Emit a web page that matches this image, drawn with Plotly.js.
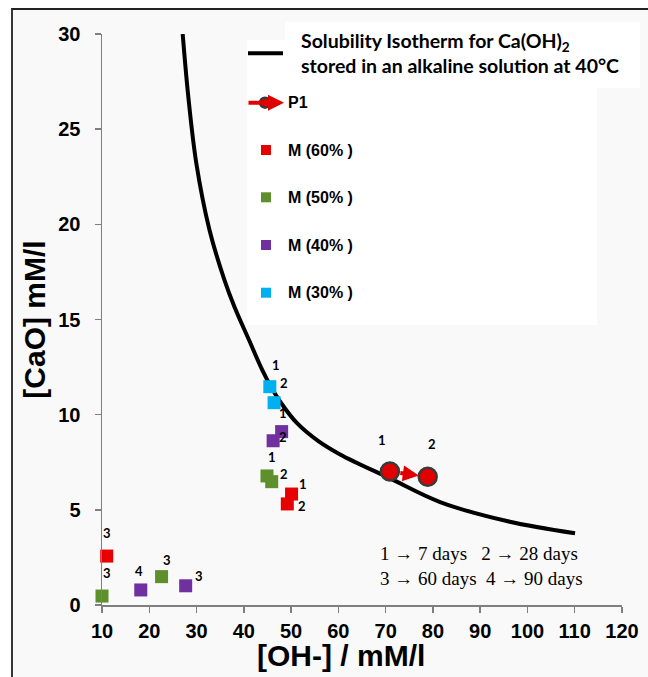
<!DOCTYPE html>
<html><head><meta charset="utf-8">
<script src="https://cdn.plot.ly/plotly-3.0.1.min.js"></script>
<style>html,body{margin:0;padding:0;background:#fff}</style>
</head><body><div id="chart" style="width:648px;height:677px"></div>
<script>
// ---------- data ----------
const curveX = [27.07, 28.26, 29.95, 32.74, 35.91, 38.01, 41.10, 43.89, 45.73, 47.92, 51.26, 55.70, 60.36, 70.94, 81.52, 95.63, 110.07];
const curveY = [30.0, 26.70, 23.21, 19.70, 17.07, 15.67, 13.92, 12.35, 11.47, 10.60, 9.55, 8.62, 7.91, 6.65, 5.41, 4.41, 3.77];

const p1X = [70.9, 78.9];
const p1Y = [7.01, 6.74];
const p1Lbl = ['1', '2'];

const m60X = [50.1, 49.2, 11.0];
const m60Y = [5.83, 5.31, 2.57];
const m60Lbl = ['1', '2', '3'];

const m50X = [44.9, 45.9, 10.0, 22.6];
const m50Y = [6.78, 6.48, 0.47, 1.49];
const m50Lbl = ['1', '2', '3', '3'];

const m40X = [48.0, 46.2, 18.2, 27.7];
const m40Y = [9.11, 8.63, 0.79, 1.01];
const m40Lbl = ['1', '2', '4', '3'];

const m30X = [45.5, 46.4];
const m30Y = [11.47, 10.63];
const m30Lbl = ['1', '2'];

const seriesNames = ['P1', 'M (60% )', 'M (50% )', 'M (40% )', 'M (30% )'];
const curveNameLines = ['Solubility Isotherm for Ca(OH)<sub>2</sub>', 'stored in an alkaline solution at 40°C'];
const xTickVals = [10, 20, 30, 40, 50, 60, 70, 80, 90, 100, 110, 120];
const yTickVals = [0, 5, 10, 15, 20, 25, 30];
const xTitle = '[OH-] / mM/l';
const yTitle = '[CaO] mM/l';
const daysNote = '1 → 7 days&nbsp;&nbsp;&nbsp;2 → 28 days<br>3 → 60 days&nbsp;&nbsp;4 → 90 days';

// ---------- styling / layout ----------
const W = 648, H = 677;
const M = {l: 102, r: 26, t: 34, b: 72};
const PX = x => (x - M.l) / (W - M.l - M.r);
const PY = y => (H - M.b - y) / (H - M.t - M.b);

const colors = {m60: '#e60000', m50: '#5e8f2d', m40: '#7030a0', m30: '#00b0f0', p1: '#e00000'};
const labelFont = {family: 'Lato, Open Sans, sans-serif', size: 13, weight: 'bold', color: '#000'};
const boldSans = 'Liberation Sans, Arial, sans-serif';

// pixel offsets for point labels (dx right, dy up)
const offP1 = [[-8, 32], [4, 33]];
const off60 = [[11, 10], [15, -2], [0, 23]];
const off50 = [[5, 19], [12, 8], [5, 23], [5, 17]];
const off40 = [[1, 19], [10, 4], [-2, 19], [13, 10]];
const off30 = [[6, 22], [10, 20]];

function sq(x, y, name, color) {
  return {x, y, name, type: 'scatter', mode: 'markers', cliponaxis: false,
    marker: {symbol: 'square', size: 13, color}, hoverinfo: 'x+y+name'};
}

const traces = [
  {x: curveX, y: curveY, name: curveNameLines.join('<br>'), type: 'scatter', mode: 'lines',
   line: {color: '#000', width: 4, shape: 'spline', smoothing: 1}},
  sq(m60X, m60Y, seriesNames[1], colors.m60),
  sq(m50X, m50Y, seriesNames[2], colors.m50),
  sq(m40X, m40Y, seriesNames[3], colors.m40),
  sq(m30X, m30Y, seriesNames[4], colors.m30),
  {x: p1X, y: p1Y, name: seriesNames[0], type: 'scatter', mode: 'markers', cliponaxis: false,
   marker: {symbol: 'circle', size: 18, color: colors.p1, line: {color: '#3a3a3a', width: 2.5}}}
];

const annotations = [];
function addLabels(xs, ys, lbls, offs) {
  xs.forEach((x, i) => annotations.push({x, y: ys[i], xref: 'x', yref: 'y', text: lbls[i],
    showarrow: false, xshift: offs[i][0], yshift: offs[i][1], font: labelFont}));
}
addLabels(p1X, p1Y, p1Lbl, offP1);
addLabels(m60X, m60Y, m60Lbl, off60);
addLabels(m50X, m50Y, m50Lbl, off50);
addLabels(m40X, m40Y, m40Lbl, off40);
addLabels(m30X, m30Y, m30Lbl, off30);

// arrow between P1 points
annotations.push({x: p1X[1], y: p1Y[1], ax: p1X[0], ay: p1Y[0], xref: 'x', yref: 'y', axref: 'x', ayref: 'y',
  text: '', showarrow: true, arrowhead: 2, arrowsize: 0.8, arrowwidth: 4, arrowcolor: colors.p1,
  standoff: 9, startstandoff: 9});

// x-axis title
annotations.push({x: PX(341), y: PY(655), xref: 'paper', yref: 'paper', xanchor: 'center', yanchor: 'middle',
  showarrow: false, text: xTitle, font: {family: boldSans, size: 30, weight: 'bold', color: '#000'}});

// days note
annotations.push({x: PX(378), y: PY(565.5), xref: 'paper', yref: 'paper', xanchor: 'left', yanchor: 'middle',
  align: 'left', showarrow: false, text: daysNote,
  font: {family: 'Liberation Serif, Times New Roman, serif', size: 19, color: '#000'}});

// manual legend
annotations.push({x: PX(299), y: PY(42), xref: 'paper', yref: 'paper', xanchor: 'left', yanchor: 'middle',
  align: 'left', showarrow: false, text: curveNameLines[0],
  font: {family: 'Lato, Open Sans, sans-serif', size: 19.5, weight: 'bold', color: '#000'}});
annotations.push({x: PX(299), y: PY(65), xref: 'paper', yref: 'paper', xanchor: 'left', yanchor: 'middle',
  align: 'left', showarrow: false, text: curveNameLines[1],
  font: {family: 'Lato, Open Sans, sans-serif', size: 19.5, weight: 'bold', color: '#000'}});
const legY = [102.7, 150, 197.3, 245, 292.7];
seriesNames.forEach((n, i) => annotations.push({x: PX(286), y: PY(legY[i]), xref: 'paper', yref: 'paper',
  xanchor: 'left', yanchor: 'middle', showarrow: false, text: n,
  font: {family: boldSans, size: 16, weight: 'bold', color: '#000'}}));
annotations.push({x: PX(284), y: PY(102.7), xref: 'paper', yref: 'paper', ax: -37, ay: 0, text: '',
  showarrow: true, arrowhead: 2, arrowsize: 0.8, arrowwidth: 4, arrowcolor: colors.p1});

const shapes = [
  // outer frame
  {type: 'rect', xref: 'paper', yref: 'paper', layer: 'below', x0: PX(12), x1: PX(700), y0: PY(720), y1: PY(9),
   fillcolor: '#f9f9f9', line: {color: '#222', width: 1.8}},
  // legend boxes
  {type: 'rect', xref: 'paper', yref: 'paper', layer: 'below', x0: PX(285), x1: PX(640), y0: PY(88), y1: PY(22),
   fillcolor: '#ffffff', line: {width: 0}},
  {type: 'rect', xref: 'paper', yref: 'paper', layer: 'below', x0: PX(247), x1: PX(597), y0: PY(325), y1: PY(40),
   fillcolor: '#ffffff', line: {width: 0}},
  // legend swatches
  {type: 'line', xref: 'paper', yref: 'paper', x0: PX(248), x1: PX(283), y0: PY(53.3), y1: PY(53.3),
   line: {color: '#000', width: 4}},
  {type: 'circle', xref: 'paper', yref: 'paper', x0: PX(260), x1: PX(270), y0: PY(107.7), y1: PY(97.7),
   fillcolor: colors.p1, line: {color: '#3a3a3a', width: 2.5}}
];
[colors.m60, colors.m50, colors.m40, colors.m30].forEach((c, i) => shapes.push({type: 'rect', xref: 'paper', yref: 'paper',
  x0: PX(261), x1: PX(271), y0: PY(legY[i + 1] + 5), y1: PY(legY[i + 1] - 5), fillcolor: c, line: {width: 0}}));

const axisCommon = {showgrid: false, zeroline: false, showline: true, linecolor: '#7f7f7f', linewidth: 1.5,
  ticks: 'outside', ticklen: 6, tickwidth: 1.5, tickcolor: '#7f7f7f', automargin: false,
  tickfont: {family: boldSans, size: 20, weight: 'bold', color: '#000'}};

const layout = {
  width: W, height: H, margin: M, showlegend: false,
  paper_bgcolor: '#ffffff', plot_bgcolor: 'rgba(0,0,0,0)',
  xaxis: Object.assign({}, axisCommon, {range: [10, 120], tickvals: xTickVals, ticklabelstandoff: 1}),
  yaxis: Object.assign({}, axisCommon, {range: [0, 30], tickvals: yTickVals, ticklabelstandoff: 10,
    title: {text: yTitle, standoff: 4,
      font: {family: boldSans, size: 30, weight: 'bold', color: '#000'}}}),
  annotations, shapes
};

Plotly.newPlot('chart', traces, layout, {displayModeBar: false, staticPlot: true});
</script></body></html>
